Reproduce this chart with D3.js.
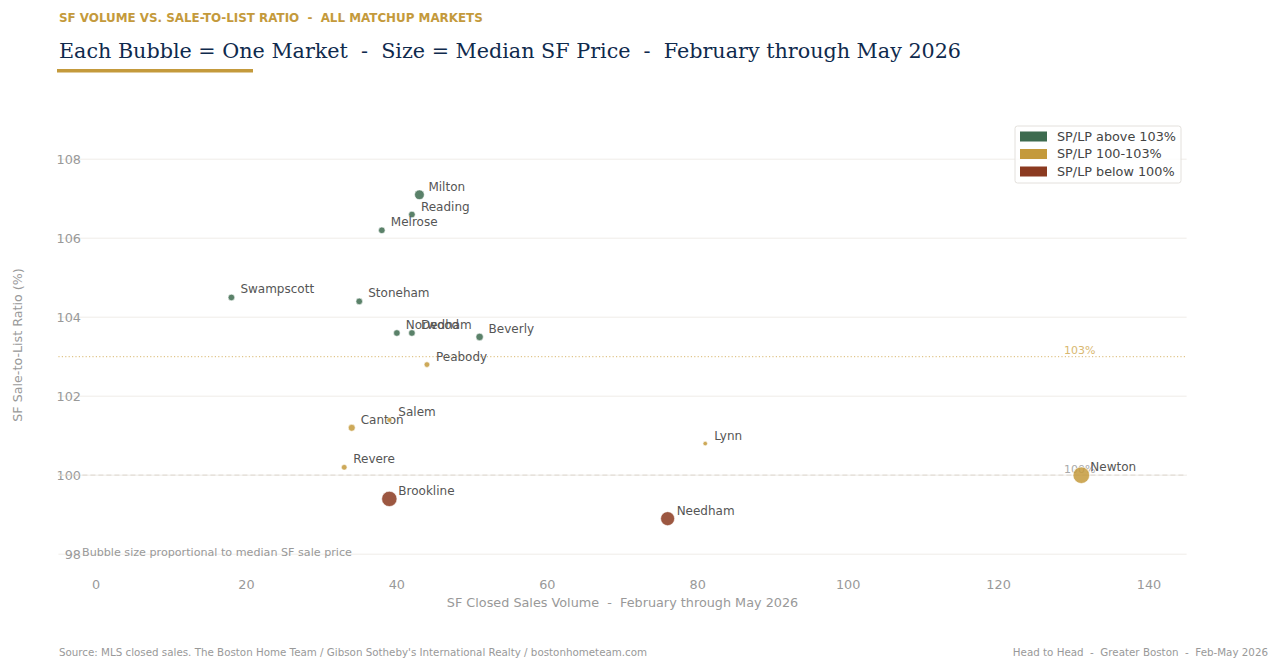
<!DOCTYPE html>
<html>
<head>
<meta charset="utf-8">
<script src="https://cdn.jsdelivr.net/npm/d3@7"></script>
<style>
  html, body { margin: 0; padding: 0; background: #fff; }
  svg { display: block; font-family: "DejaVu Sans", sans-serif; }
</style>
</head>
<body>
<svg id="chart" width="1280" height="669"></svg>
<script>
// ---- data ----
const markets = ['Milton','Reading','Melrose','Swampscott','Stoneham','Norwood','Dedham','Beverly',
                 'Peabody','Canton','Salem','Revere','Brookline','Lynn','Needham','Newton'];
const volume  = [43, 42, 38, 18, 35, 40, 42, 51, 44, 34, 39, 33, 39, 81, 76, 131];
const splp    = [107.1, 106.6, 106.2, 104.5, 104.4, 103.6, 103.6, 103.5, 102.8, 101.2, 101.4, 100.2, 99.4, 100.8, 98.9, 100.0];
const medianK = [1100, 790, 790, 790, 790, 790, 790, 860, 720, 820, 680, 720, 1950, 650, 1720, 2200];

const xTicks = [0, 20, 40, 60, 80, 100, 120, 140];
const yTicks = [98, 100, 102, 104, 106, 108];

const bands = [
  { name: 'SP/LP above 103%', color: '#3d6b4f' },
  { name: 'SP/LP 100-103%',   color: '#c49a3c' },
  { name: 'SP/LP below 100%', color: '#8b3a20' }
];

const points = markets.map((m, i) => ({ name: m, x: volume[i], y: splp[i], price: medianK[i] }));
const band = v => v > 103 ? bands[0] : (v >= 100 ? bands[1] : bands[2]);

// ---- setup ----
const svg = d3.select('#chart');
const x = d3.scaleLinear().domain([-5, 145]).range([58.4, 1186.6]);
const y = d3.scaleLinear().domain([97.6, 109.0]).range([570, 119.7]);
const area = d3.scaleLinear().domain([650, 2200]).range([16, 216]);
const radius = p => Math.sqrt(area(p) / Math.PI);

// headings
svg.append('text').attr('x', 59).attr('y', 21.5)
  .attr('font-size', 11.9).attr('font-weight', 'bold').attr('fill', '#c49a3c')
  .attr('xml:space', 'preserve')
  .text('SF VOLUME VS. SALE-TO-LIST RATIO  -  ALL MATCHUP MARKETS');
svg.append('text').attr('x', 59).attr('y', 57.5)
  .attr('font-family', '"DejaVu Serif", serif').attr('font-size', 20.7).attr('fill', '#0f2a4d')
  .attr('xml:space', 'preserve')
  .text('Each Bubble = One Market  -  Size = Median SF Price  -  February through May 2026');
svg.append('rect').attr('x', 57).attr('y', 69).attr('width', 196).attr('height', 3.5).attr('fill', '#c49a3c');

// grid
const g = svg.append('g');
g.selectAll('line.grid').data(yTicks).join('line')
  .attr('class', 'grid')
  .attr('x1', x.range()[0]).attr('x2', x.range()[1])
  .attr('y1', d => y(d)).attr('y2', d => y(d))
  .attr('stroke', '#ece8e2').attr('stroke-width', 0.8);

// y ticks
g.selectAll('text.ytick').data(yTicks).join('text')
  .attr('class', 'ytick')
  .attr('x', 81).attr('y', d => y(d)).attr('dy', '0.35em')
  .attr('text-anchor', 'end').attr('font-size', 12.8).attr('fill', '#999')
  .text(d => d);

// x ticks
g.selectAll('text.xtick').data(xTicks).join('text')
  .attr('class', 'xtick')
  .attr('x', d => x(d)).attr('y', 588.5)
  .attr('text-anchor', 'middle').attr('font-size', 12.8).attr('fill', '#999')
  .text(d => d);

// axis labels
svg.append('text').attr('x', 622.5).attr('y', 606.5)
  .attr('text-anchor', 'middle').attr('font-size', 12.8).attr('fill', '#999')
  .attr('xml:space', 'preserve')
  .text('SF Closed Sales Volume  -  February through May 2026');
svg.append('text').attr('transform', 'translate(21.5,345) rotate(-90)')
  .attr('text-anchor', 'middle').attr('font-size', 12.7).attr('fill', '#999')
  .text('SF Sale-to-List Ratio (%)');

// reference lines
g.append('line')
  .attr('x1', x.range()[0]).attr('x2', x.range()[1]).attr('y1', y(103)).attr('y2', y(103))
  .attr('stroke', '#d9b870').attr('stroke-width', 1).attr('stroke-dasharray', '1.2,2.2');
g.append('text').attr('x', x(128.7)).attr('y', y(103) - 2.5)
  .attr('font-size', 11).attr('fill', '#d9b870').text('103%');
g.append('line')
  .attr('x1', x.range()[0]).attr('x2', x.range()[1]).attr('y1', y(100)).attr('y2', y(100))
  .attr('stroke', '#e2ddd6').attr('stroke-width', 1.2).attr('stroke-dasharray', '5,3');
g.append('text').attr('x', x(128.7)).attr('y', y(100) - 2.5)
  .attr('font-size', 11).attr('fill', '#aaa').text('100%');

// bubbles + names, drawn point by point (later bubbles sit over earlier names)
const pt = g.selectAll('g.pt').data(points).join('g').attr('class', 'pt');
pt.append('circle')
  .attr('cx', d => x(d.x)).attr('cy', d => y(d.y))
  .attr('r', d => radius(d.price))
  .attr('fill', d => band(d.y).color).attr('fill-opacity', 0.85)
  .attr('stroke', '#fff').attr('stroke-width', 0.6);
pt.append('text')
  .attr('x', d => x(d.x) + 9).attr('y', d => y(d.y) - 4)
  .attr('font-size', 12).attr('fill', '#555')
  .text(d => d.name);

// note
svg.append('text').attr('x', 82).attr('y', 556)
  .attr('font-size', 11.15).attr('fill', '#999')
  .text('Bubble size proportional to median SF sale price');

// legend
const lg = svg.append('g').attr('transform', 'translate(1015,126)');
lg.append('rect').attr('width', 166).attr('height', 57).attr('rx', 2.5)
  .attr('fill', '#fff').attr('fill-opacity', 0.8).attr('stroke', '#e3e0dc');
bands.forEach((b, i) => {
  const cy = 10.5 + i * 17.5;
  lg.append('rect').attr('x', 5).attr('y', cy - 5).attr('width', 27).attr('height', 10).attr('fill', b.color);
  lg.append('text').attr('x', 42).attr('y', cy).attr('dy', '0.35em')
    .attr('font-size', 12.8).attr('fill', '#444').text(b.name);
});

// footer
svg.append('text').attr('x', 59).attr('y', 656)
  .attr('font-size', 10.3).attr('fill', '#999')
  .text("Source: MLS closed sales. The Boston Home Team / Gibson Sotheby's International Realty / bostonhometeam.com");
svg.append('text').attr('x', 1268).attr('y', 656).attr('text-anchor', 'end')
  .attr('font-size', 10.3).attr('fill', '#999').attr('xml:space', 'preserve')
  .text('Head to Head  -  Greater Boston  -  Feb-May 2026');
</script>
</body>
</html>
